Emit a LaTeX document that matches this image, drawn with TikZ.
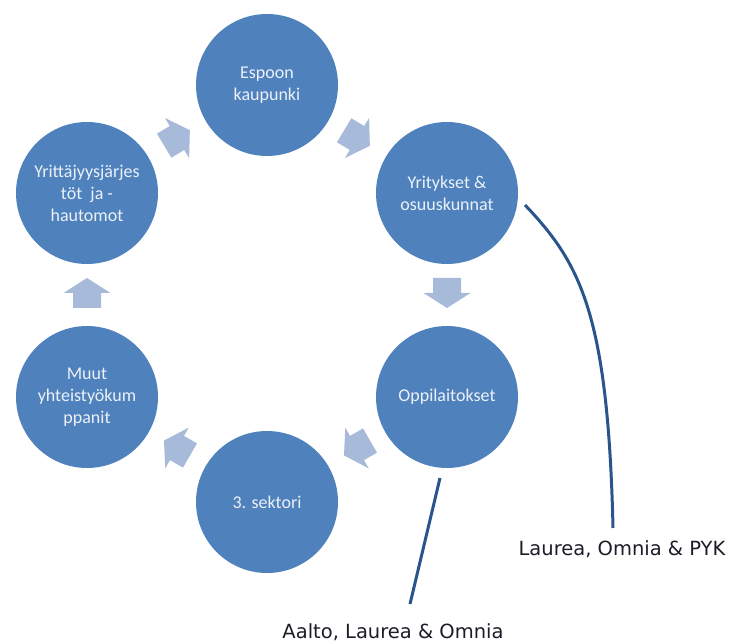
\documentclass[tikz,border=0pt]{standalone}
\usepackage{fontspec}
\setmainfont{Carlito}
\newfontfamily\labelfont{DejaVu Sans}
\definecolor{circblue}{RGB}{79,129,189}
\definecolor{arrblue}{RGB}{167,186,217}
\definecolor{lineblue}{RGB}{42,84,140}
\definecolor{circtext}{RGB}{236,241,248}
\definecolor{labtext}{RGB}{28,28,40}
\tikzset{
  cyc/.style={circle, fill=circblue, minimum size=142pt, inner sep=0pt,
    text=circtext, font=\fontsize{18}{22}\selectfont, align=center},
  blockarrow/.style={fill=arrblue},
  leader/.style={draw=lineblue, line width=3pt},
  lab/.style={text=labtext, font=\labelfont\fontsize{19.5}{22}\selectfont, inner sep=0pt}
}
\newcommand{\cycarrow}[3]{%
  \fill[blockarrow, shift={(#1,#2)}, rotate=#3]
    (-15,-14) -- (0,-14) -- (0,-23.5) -- (15,0) -- (0,23.5) -- (0,14) -- (-15,14) -- cycle;}
\begin{document}
\begin{tikzpicture}[x=1pt,y=1pt]
\useasboundingbox (0,0) rectangle (730,643);
\node[cyc] (esp) at (267,558) {Espoon\\kaupunki};
\node[cyc] (yri) at (447,450) {Yritykset \&\\osuuskunnat};
\node[cyc] (opp) at (447,246) {Oppilaitokset};
\node[cyc] (sek) at (267,141) {3. sektori};
\node[cyc] (muu) at (87,246) {Muut\\yhteistyökum\\ppanit};
\node[cyc] (yrj) at (87,450) {Yrittäjyysjärjes\\töt~~ja~-\\hautomot};
\cycarrow{177}{505}{31}
\cycarrow{357}{505}{-31}
\cycarrow{447}{350}{-90}
\cycarrow{357}{195}{210}
\cycarrow{177}{195}{150}
\cycarrow{87}{350}{90}
\node[lab, anchor=base] (l1) at (622,88) {Laurea, Omnia \& PYK};
\node[lab, anchor=base] (l2) at (393,5) {Aalto, Laurea \& Omnia};
\coordinate (c1) at (525,438);
\coordinate (c2) at (613,115);
\coordinate (c3) at (440,165);
\coordinate (c4) at (410,39);
\draw[leader] (c1) .. controls (580,380) and (608,330) .. (c2);
\draw[leader] (c3) -- (c4);
\end{tikzpicture}
\end{document}
